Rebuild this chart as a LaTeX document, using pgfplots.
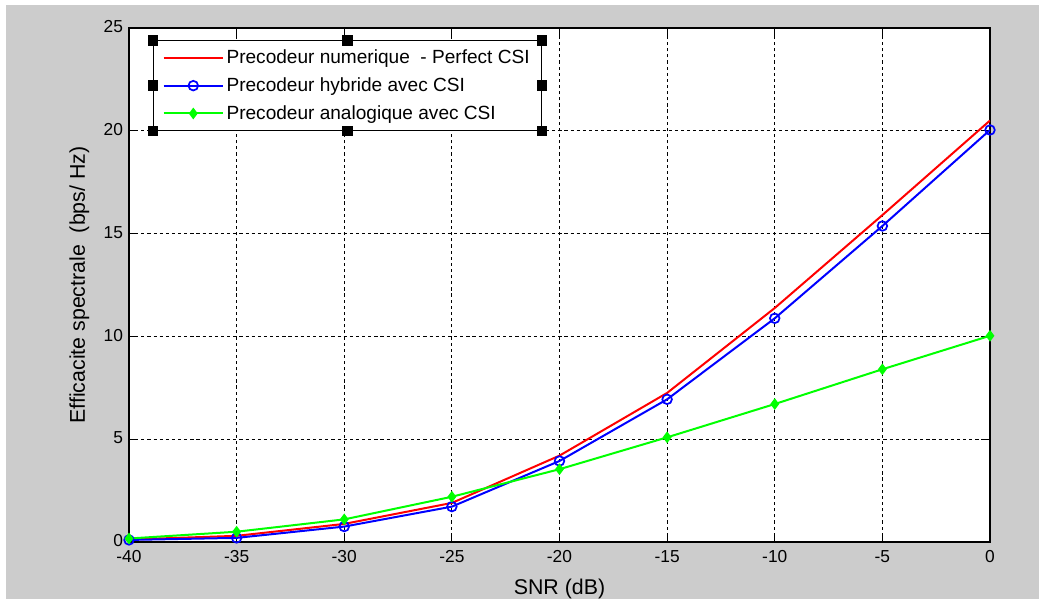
\documentclass[border=0pt]{standalone}
\usepackage{pgfplots}
\pgfplotsset{compat=1.18}
\usepackage{fontspec}
\setmainfont{Liberation Sans}
\definecolor{figgray}{RGB}{204,204,204}
\definecolor{mred}{RGB}{255,0,0}
\definecolor{mblue}{RGB}{0,0,255}
\definecolor{mgreen}{RGB}{0,255,0}

\begin{document}
\begin{tikzpicture}[x=0.75pt,y=0.75pt]
% page and figure background (pixel units, y upwards from the bottom)
\fill[white] (0,0) rectangle (1046,606);
\fill[figgray] (6,7) rectangle (1039,601);
\begin{axis}[
at={(96.75pt,48pt)}, anchor=south west,
scale only axis,
width=645.75pt, height=385.5pt,
xmin=-40, xmax=0,
ymin=0, ymax=25,
xtick={-40,-35,...,0},
ytick={0,5,...,25},
tick pos=both,
tick align=inside,
major tick length=7pt,
axis background/.style={fill=white},
axis line style={black, line width=0.8pt},
every tick/.style={black, line width=0.8pt},
grid=major,
grid style={black, dash pattern=on 2.4pt off 2.2pt, line width=0.6pt},
ticklabel style={font=\fontsize{13}{15}\selectfont},
/pgf/number format/assume math mode=true,
xticklabel style={yshift=-3pt},
yticklabel style={xshift=-1pt, yshift=1pt},
xlabel={SNR (dB)},
ylabel={Efficacite spectrale\ \ (bps/ Hz)},
label style={font=\fontsize{16}{18}\selectfont},
xlabel style={yshift=-5pt},
ylabel style={yshift=4pt},
legend cell align=left,
legend style={name=leg, at={(rel axis cs:0.028,0.976)}, anchor=north west,
  draw=black, fill=white,
  font=\fontsize{14.3}{16}\selectfont,
  row sep=5pt, inner xsep=7pt, inner ysep=5pt},
legend image code/.code={%
  \draw[mark repeat=2,mark phase=2,#1] plot coordinates {(0cm,0cm) (0.78cm,0cm) (1.56cm,0cm)};},
]
\addplot[mred, line width=1.5pt, mark=none] coordinates {
(-40,0.12)(-35,0.3)(-30,0.88)(-25,1.9)(-20,4.2)(-15,7.25)(-10,11.38)(-5,15.9)(0,20.5)
};
\addlegendentry{Precodeur numerique\ \ - Perfect CSI}
\addplot[mblue, line width=1.5pt, mark=o, mark size=3.6pt, mark options={solid, line width=1.3pt}] coordinates {
(-40,0.1)(-35,0.2)(-30,0.75)(-25,1.72)(-20,3.94)(-15,6.94)(-10,10.88)(-5,15.37)(0,20.04)
};
\addlegendentry{Precodeur hybride avec CSI}
\addplot[mgreen, line width=1.5pt, mark=diamond*, mark size=3.2pt, mark options={solid}] coordinates {
(-40,0.17)(-35,0.5)(-30,1.1)(-25,2.2)(-20,3.54)(-15,5.09)(-10,6.71)(-5,8.4)(0,10.03)
};
\addlegendentry{Precodeur analogique avec CSI}
\end{axis}
% selection handles of the legend box
\foreach \p in {north west,north,north east,west,east,south west,south,south east}{
  \fill[black] ([xshift=-4pt,yshift=-4pt]leg.\p) rectangle ([xshift=4pt,yshift=4pt]leg.\p);
}
\end{tikzpicture}
\end{document}
